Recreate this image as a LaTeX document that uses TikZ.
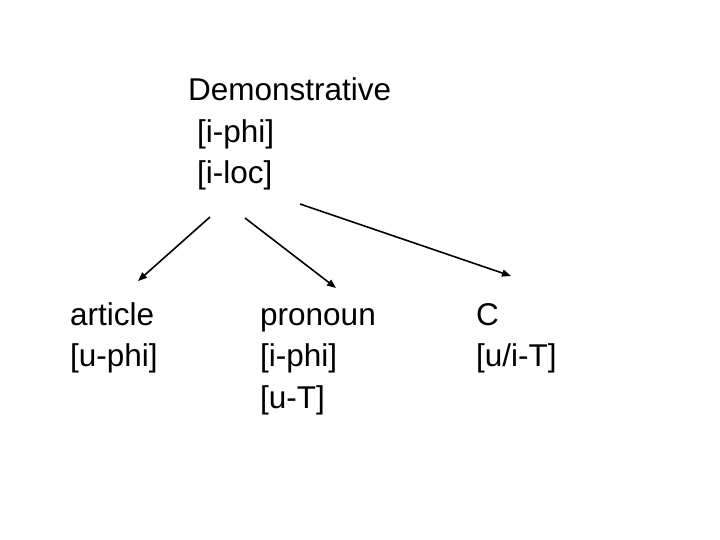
\documentclass[tikz,border=0pt]{standalone}
\usepackage{fontspec}
\setmainfont{Liberation Sans}
\usetikzlibrary{arrows.meta}
\begin{document}
\begin{tikzpicture}[x=1pt,y=-1pt,
  lbl/.style={anchor=base west,inner sep=0pt,font=\fontsize{31.5}{38}\selectfont},
  arr/.style={line width=1.6pt,-{Triangle[length=9pt,width=7pt]}}]
\useasboundingbox (0,0) rectangle (720,540);
\node[lbl] (dem) at (188,101) {Demonstrative};
\node[lbl] (dphi) at (197,143) {[i-phi]};
\node[lbl] (dloc) at (197,184) {[i-loc]};
\node[lbl] (art) at (70,325) {article};
\node[lbl] (aphi) at (70,366) {[u-phi]};
\node[lbl] (pro) at (260,325) {pronoun};
\node[lbl] (pphi) at (260,366) {[i-phi]};
\node[lbl] (pT) at (260,408) {[u-T]};
\node[lbl] (c) at (476,325) {C};
\node[lbl] (cT) at (476,366) {[u/i-T]};
\coordinate (s1) at (210,217);
\coordinate (e1) at (138,281);
\coordinate (s2) at (245,218);
\coordinate (e2) at (336,288);
\coordinate (s3) at (300,204);
\coordinate (e3) at (511,276);
\draw[arr] (s1) -- (e1);
\draw[arr] (s2) -- (e2);
\draw[arr] (s3) -- (e3);
\end{tikzpicture}
\end{document}
